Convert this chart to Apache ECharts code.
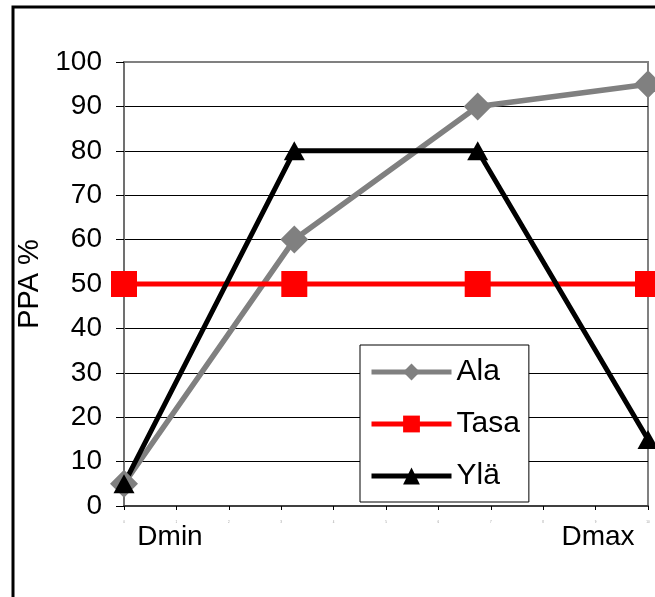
<!DOCTYPE html>
<html>
<head>
<meta charset="utf-8">
<script src="https://cdn.jsdelivr.net/npm/echarts@6/dist/echarts.min.js"></script>
<style>
  html, body { margin: 0; padding: 0; background: #fff; }
  #chart { width: 655px; height: 597px; }
</style>
</head>
<body>
<div id="chart"></div>
<script>
// Positions along the D axis (0 = Dmin, 10 = Dmax)
const xPositions = [0, 3.25, 6.75, 10];
const seriesNames = ['Ala', 'Tasa', 'Ylä'];
const alaValues = [5, 60, 90, 95];
const tasaValues = [50, 50, 50, 50];
const ylaValues = [5, 80, 80, 15];
const yTicks = [0, 10, 20, 30, 40, 50, 60, 70, 80, 90, 100];
const endLabels = ['Dmin', 'Dmax'];

const FONT = '"Liberation Sans", Arial, sans-serif';

function pairs(values) {
  return values.map((v, i) => [xPositions[i], v]);
}

// Grid lines are black except the top edge, which blends with the grey frame
const gridColors = yTicks.map((t, i) => (i === yTicks.length - 1 ? '#808080' : '#000000'));

const chart = echarts.init(document.getElementById('chart'), null, { renderer: 'canvas' });

chart.setOption({
  backgroundColor: '#ffffff',
  animation: false,
  textStyle: { fontFamily: FONT },
  grid: {
    left: 124, top: 62, right: 7, bottom: 91,
    show: true, borderColor: '#808080', borderWidth: 2, backgroundColor: '#ffffff'
  },
  xAxis: {
    type: 'value', min: 0, max: 10, interval: 1,
    axisLine: { lineStyle: { color: '#404040', width: 2 } },
    axisTick: { show: true, length: 4, lineStyle: { color: '#000', width: 1 } },
    axisLabel: { fontSize: 3, color: '#999', margin: 15, formatter: v => String(v) },
    splitLine: { show: false }
  },
  yAxis: {
    type: 'value', min: 0, max: 100, interval: 10,
    name: 'PPA %', nameLocation: 'middle', nameGap: 74,
    nameTextStyle: { fontSize: 29, color: '#000', fontFamily: FONT },
    axisLine: { show: true, lineStyle: { color: '#707070', width: 2 } },
    axisTick: { show: true, length: 8, lineStyle: { color: '#000', width: 1 } },
    axisLabel: { fontSize: 28, color: '#000', margin: 22, fontFamily: FONT },
    splitLine: { show: true, lineStyle: { color: gridColors, width: 1 } }
  },
  legend: {
    orient: 'vertical', left: 360, top: 345,
    data: seriesNames,
    itemWidth: 80, itemHeight: 21, itemGap: 22,
    padding: [12, 9, 11, 9],
    backgroundColor: '#ffffff', borderColor: '#000', borderWidth: 1, borderRadius: 0,
    lineStyle: { width: 5 },
    textStyle: { fontSize: 30, color: '#000', fontFamily: FONT }
  },
  series: [
    {
      name: seriesNames[0], type: 'line', data: pairs(alaValues),
      symbol: 'diamond', symbolSize: 28,
      lineStyle: { color: '#808080', width: 5.5 },
      itemStyle: { color: '#808080' }
    },
    {
      name: seriesNames[1], type: 'line', data: pairs(tasaValues),
      symbol: 'rect', symbolSize: 26,
      lineStyle: { color: '#ff0000', width: 5 },
      itemStyle: { color: '#ff0000' }
    },
    {
      name: seriesNames[2], type: 'line', data: pairs(ylaValues),
      symbol: 'triangle', symbolSize: [21, 19],
      lineStyle: { color: '#000000', width: 5 },
      itemStyle: { color: '#000000' }
    }
  ],
  graphic: [
    {
      type: 'rect', silent: true, z: 100,
      shape: { x: 13, y: 7, width: 700, height: 700 },
      style: { fill: 'none', stroke: '#000', lineWidth: 3 }
    },
    {
      type: 'text', x: 170, y: 537,
      style: { text: endLabels[0], fontSize: 28, fontFamily: FONT, fill: '#000', align: 'center', verticalAlign: 'middle' }
    },
    {
      type: 'text', x: 598, y: 537,
      style: { text: endLabels[1], fontSize: 28, fontFamily: FONT, fill: '#000', align: 'center', verticalAlign: 'middle' }
    }
  ]
});
</script>
</body>
</html>
